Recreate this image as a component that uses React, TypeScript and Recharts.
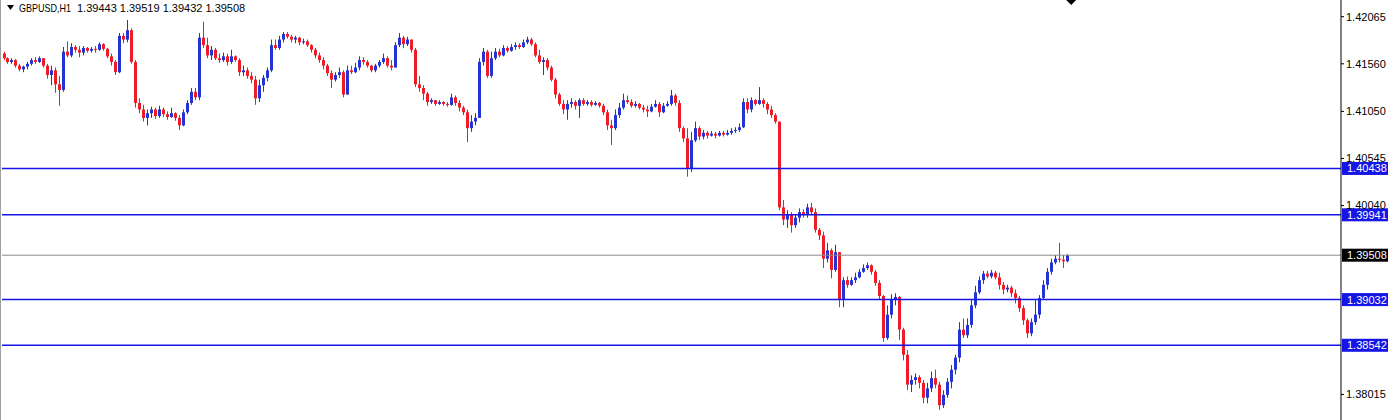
import { ComposedChart, Bar, XAxis, YAxis, ReferenceLine, ReferenceDot } from 'recharts'

const WIDTH = 1395
const HEIGHT = 420
const BULL = '#2433d4'
const BEAR = '#ee1c24'
const LEVEL_BLUE = '#1515e6'
const BID_GRAY = '#8a8a8a'
const FONT = '"Liberation Sans", Arial, sans-serif'

const SYMBOL = 'GBPUSD,H1'
const LAST_OHLC = ['1.39443', '1.39519', '1.39432', '1.39508']

// hourly candles, oldest first; open of each bar is the previous close
const FIRST_OPEN = 1.4167
const closes = [
  1.4162, 1.4158, 1.416, 1.4154, 1.415, 1.4153, 1.4156, 1.416, 1.4158, 1.4162,
  1.4154, 1.4144, 1.4149, 1.4134, 1.4128, 1.4169, 1.4165, 1.4174, 1.4171, 1.4168,
  1.4173, 1.417, 1.4172, 1.4171, 1.4177, 1.4172, 1.4164, 1.4158, 1.4147, 1.4186,
  1.4182, 1.4192, 1.4158, 1.4114, 1.4107, 1.4098, 1.4103, 1.4107, 1.41, 1.4107,
  1.4102, 1.4099, 1.4103, 1.4098, 1.409, 1.4104, 1.4114, 1.4126, 1.412, 1.4184,
  1.4176, 1.4165, 1.4171, 1.4162, 1.416, 1.4164, 1.4158, 1.4164, 1.416, 1.4147,
  1.4149, 1.4143, 1.4139, 1.4119, 1.4133, 1.4141, 1.4149, 1.4176, 1.4173, 1.4182,
  1.4188, 1.4185, 1.4182, 1.4184, 1.4179, 1.418, 1.4176, 1.4171, 1.4165, 1.416,
  1.4154, 1.4146, 1.4139, 1.4144, 1.4147, 1.4123, 1.4149, 1.4147, 1.4152, 1.416,
  1.4158, 1.4154, 1.4149, 1.4154, 1.4158, 1.4162, 1.4154, 1.4152, 1.4176, 1.4184,
  1.4177, 1.4182, 1.4171, 1.4134, 1.413, 1.4124, 1.4115, 1.4117, 1.4113, 1.4115,
  1.4113, 1.4112, 1.412, 1.4114, 1.4109, 1.4104, 1.4087, 1.4094, 1.4098, 1.4158,
  1.4169, 1.4143, 1.4162, 1.4169, 1.4165, 1.4173, 1.417, 1.4174, 1.4176, 1.4174,
  1.4179, 1.4182, 1.4177, 1.4165, 1.4158, 1.416, 1.4152, 1.4139, 1.4123, 1.4113,
  1.4107, 1.4113, 1.4115, 1.4111, 1.4117, 1.4113, 1.4115, 1.4112, 1.4114, 1.4111,
  1.4104, 1.409, 1.4087, 1.4101, 1.4109, 1.4117, 1.4115, 1.4111, 1.4113, 1.4109,
  1.4107, 1.4105, 1.411, 1.4113, 1.4104, 1.4111, 1.4113, 1.4122, 1.4114, 1.4087,
  1.4076, 1.4044, 1.4074, 1.4087, 1.4078, 1.4082, 1.4079, 1.4081, 1.4079, 1.4082,
  1.408, 1.4082, 1.4084, 1.4085, 1.4088, 1.4115, 1.4107, 1.4117, 1.4113, 1.4117,
  1.4113, 1.4107, 1.4101, 1.4094, 1.4002, 1.3989, 1.3994, 1.3983, 1.3991, 1.3997,
  1.3994, 1.4002, 1.3997, 1.3978, 1.3972, 1.3947, 1.3956, 1.3935, 1.3954, 1.3903,
  1.3924, 1.3919, 1.3924, 1.3927, 1.3933, 1.3937, 1.394, 1.3933, 1.3921, 1.3907,
  1.3862, 1.3887, 1.3903, 1.3906, 1.3871, 1.3844, 1.3812, 1.3817, 1.382, 1.3814,
  1.3798, 1.3808, 1.3819, 1.3812, 1.379, 1.3801, 1.3815, 1.3828, 1.3841, 1.3871,
  1.3865, 1.3876, 1.3897, 1.3911, 1.3924, 1.3931, 1.3928, 1.3932, 1.3927, 1.3919,
  1.3914, 1.3916, 1.391, 1.3905, 1.3894, 1.3881, 1.3867, 1.3879, 1.3887, 1.3905,
  1.3919, 1.3933, 1.3943, 1.3947, 1.3946, 1.39443, 1.39508,
]
const highs = [
  1.4169, 1.4163, 1.4162, 1.4161, 1.4156, 1.4154, 1.4158, 1.4162, 1.4163, 1.4164,
  1.4162, 1.4156, 1.4154, 1.4152, 1.4143, 1.4174, 1.418, 1.4178, 1.4176, 1.4175,
  1.4175, 1.4174, 1.4174, 1.4175, 1.4179, 1.4178, 1.4173, 1.4167, 1.416, 1.4189,
  1.4189, 1.4203, 1.4194, 1.416, 1.4119, 1.4112, 1.4107, 1.411, 1.4109, 1.4111,
  1.4109, 1.4105, 1.4109, 1.4104, 1.4101, 1.4107, 1.4117, 1.413, 1.413, 1.4189,
  1.4201, 1.4184, 1.4175, 1.4173, 1.4167, 1.4168, 1.4167, 1.4171, 1.4165, 1.4162,
  1.4154, 1.4152, 1.4147, 1.4143, 1.4139, 1.4144, 1.4152, 1.4182, 1.4182, 1.4186,
  1.419, 1.419, 1.4187, 1.4186, 1.4185, 1.4183, 1.4182, 1.4177, 1.4173, 1.4168,
  1.4163, 1.4156, 1.4149, 1.4147, 1.4152, 1.4149, 1.4154, 1.4154, 1.4157, 1.4164,
  1.4163, 1.416, 1.4155, 1.4156, 1.416, 1.4167, 1.4164, 1.416, 1.4179, 1.4189,
  1.4186, 1.4185, 1.4182, 1.4173, 1.4143, 1.4133, 1.4126, 1.4119, 1.4117, 1.4117,
  1.4116, 1.4115, 1.4124, 1.4122, 1.4117, 1.4111, 1.4107, 1.4101, 1.4103, 1.4162,
  1.4173, 1.4171, 1.4169, 1.4173, 1.4172, 1.4176, 1.4175, 1.4177, 1.4179, 1.4178,
  1.4182, 1.4185, 1.4184, 1.4179, 1.4171, 1.4163, 1.4162, 1.4154, 1.4141, 1.4125,
  1.4117, 1.4117, 1.4119, 1.4117, 1.4119, 1.4119, 1.4117, 1.4117, 1.4116, 1.4115,
  1.4113, 1.4107, 1.4096, 1.4107, 1.4114, 1.4124, 1.4122, 1.4118, 1.4116, 1.4114,
  1.4112, 1.4111, 1.4113, 1.4117, 1.4115, 1.4114, 1.4116, 1.4128, 1.4124, 1.4117,
  1.4089, 1.4087, 1.4083, 1.4094, 1.4089, 1.4085, 1.4084, 1.4084, 1.4083, 1.4084,
  1.4084, 1.4085, 1.4087, 1.4088, 1.4092, 1.4119, 1.4119, 1.412, 1.4118, 1.4131,
  1.4119, 1.4115, 1.4111, 1.4103, 1.4094, 1.401, 1.3999, 1.3997, 1.3995, 1.4001,
  1.4, 1.4006, 1.4007, 1.4001, 1.398, 1.3976, 1.3964, 1.3958, 1.3962, 1.3954,
  1.3927, 1.3928, 1.3927, 1.3932, 1.3936, 1.3941, 1.3943, 1.3941, 1.3935, 1.3924,
  1.3908, 1.3897, 1.3909, 1.391, 1.3907, 1.3873, 1.3849, 1.3822, 1.3824, 1.3822,
  1.3817, 1.3814, 1.3826, 1.3828, 1.3815, 1.3806, 1.3819, 1.3833, 1.3844, 1.3879,
  1.3883, 1.3883, 1.3903, 1.3918, 1.3928, 1.3934, 1.3934, 1.3935, 1.3934, 1.3932,
  1.3922, 1.3919, 1.3918, 1.3914, 1.3907, 1.3897, 1.3883, 1.3883, 1.3903, 1.3908,
  1.3924, 1.3937, 1.3947, 1.3951, 1.3964, 1.3951, 1.39519,
]
const lows = [
  1.416, 1.4156, 1.4156, 1.4152, 1.4148, 1.4147, 1.415, 1.4154, 1.4156, 1.4157,
  1.4152, 1.414, 1.4133, 1.4125, 1.4111, 1.4126, 1.4163, 1.4163, 1.4168, 1.4163,
  1.4165, 1.4168, 1.4168, 1.4168, 1.417, 1.417, 1.4162, 1.4154, 1.4144, 1.4146,
  1.4178, 1.4179, 1.4156, 1.4109, 1.4103, 1.4094, 1.409, 1.4098, 1.4097, 1.4098,
  1.4099, 1.4096, 1.4098, 1.4095, 1.4085, 1.4089, 1.4102, 1.4112, 1.4117, 1.4117,
  1.4173, 1.4162, 1.416, 1.416, 1.4157, 1.4158, 1.4154, 1.4156, 1.4158, 1.4143,
  1.4143, 1.414, 1.4135, 1.4112, 1.4115, 1.4126, 1.4137, 1.4147, 1.4171, 1.4171,
  1.4179, 1.4183, 1.4179, 1.4178, 1.4176, 1.4177, 1.4174, 1.4168, 1.4162, 1.4157,
  1.415, 1.4143, 1.413, 1.4137, 1.4141, 1.412, 1.4123, 1.4145, 1.4146, 1.4149,
  1.4155, 1.4152, 1.4147, 1.4147, 1.4152, 1.4156, 1.4152, 1.4149, 1.4152, 1.4174,
  1.4173, 1.4175, 1.4168, 1.4131, 1.4126, 1.4117, 1.4111, 1.4113, 1.4111, 1.4112,
  1.4111, 1.411, 1.4111, 1.4111, 1.4105, 1.4101, 1.4072, 1.4083, 1.409, 1.4098,
  1.4154, 1.4141, 1.4141, 1.416, 1.4163, 1.4164, 1.4168, 1.4169, 1.4171, 1.4172,
  1.4173, 1.4177, 1.4175, 1.4163, 1.4156, 1.4144, 1.4149, 1.4137, 1.4119, 1.4111,
  1.4102, 1.4096, 1.4109, 1.4107, 1.4098, 1.4111, 1.4111, 1.411, 1.4111, 1.4109,
  1.4101, 1.4085, 1.4069, 1.4085, 1.4098, 1.4107, 1.4113, 1.4109, 1.4109, 1.4107,
  1.4104, 1.4099, 1.4104, 1.4109, 1.4099, 1.4103, 1.411, 1.4111, 1.4111, 1.4083,
  1.4072, 1.4035, 1.404, 1.4072, 1.4074, 1.4075, 1.4076, 1.4078, 1.4076, 1.4078,
  1.4078, 1.4079, 1.408, 1.4082, 1.4083, 1.4087, 1.4103, 1.4104, 1.4111, 1.4112,
  1.4109, 1.4102, 1.4098, 1.4092, 1.3999, 1.3983, 1.398, 1.3975, 1.398, 1.3986,
  1.3991, 1.3991, 1.3994, 1.3975, 1.3967, 1.3937, 1.3943, 1.3926, 1.3933, 1.3895,
  1.3895, 1.3916, 1.3918, 1.3921, 1.3926, 1.3932, 1.3935, 1.393, 1.3918, 1.3903,
  1.3858, 1.386, 1.3883, 1.3897, 1.386, 1.3838, 1.3806, 1.3804, 1.3812, 1.3808,
  1.3792, 1.3792, 1.3804, 1.3808, 1.3785, 1.3787, 1.3798, 1.3808, 1.3823, 1.3836,
  1.3862, 1.3862, 1.3873, 1.3894, 1.3909, 1.392, 1.3926, 1.3926, 1.3925, 1.3914,
  1.3909, 1.3911, 1.3906, 1.3899, 1.389, 1.3876, 1.3862, 1.3864, 1.3876, 1.3883,
  1.3903, 1.3914, 1.393, 1.3941, 1.3943, 1.3937, 1.39432,
]

// empty slots after the last bar (chart shift)
const SHIFT_BARS = 68

const PRICE_MIN = 1.37741
const PRICE_MAX = 1.42244
const PRICE_TICKS = [1.42065, 1.4156, 1.4105, 1.40545, 1.4004, 1.38015]
const LEVELS = [1.40438, 1.39941, 1.39032, 1.38542]
const BID = 1.39508

type Row = {
  idx: number
  open?: number
  close?: number
  high?: number
  low?: number
  range?: [number, number]
}

const data: Row[] = []
for (let i = 0; i < closes.length + SHIFT_BARS; i++) {
  if (i < closes.length) {
    const open = i === 0 ? FIRST_OPEN : closes[i - 1]
    data.push({ idx: i, open, close: closes[i], high: highs[i], low: lows[i], range: [lows[i], highs[i]] })
  } else {
    data.push({ idx: i })
  }
}

function Candle(props: any) {
  const { x, y, width, height, payload } = props
  if (!payload || payload.close == null) return <g />
  const { open, close, high, low } = payload
  const top = Math.min(y, y + height)
  const h = Math.abs(height)
  const span = high - low
  const toY = (p: number) => (span > 0 ? top + ((high - p) / span) * h : top)
  const cx = Math.floor(x + width / 2)
  const color = close >= open ? BULL : BEAR
  const bodyTop = toY(Math.min(high, Math.max(open, close)))
  const bodyBottom = toY(Math.max(low, Math.min(open, close)))
  return (
    <g>
      <line x1={cx + 0.5} x2={cx + 0.5} y1={top} y2={top + h} stroke={color} strokeWidth={1} />
      <rect x={cx - 1} y={bodyTop} width={3} height={Math.max(1, bodyBottom - bodyTop)} fill={color} />
    </g>
  )
}

function PriceTag({ viewBox, text, fill }: any) {
  if (!viewBox) return null
  const left = viewBox.x + viewBox.width + 1
  return (
    <g>
      <rect x={left} y={viewBox.y - 6.5} width={46} height={13} fill={fill} />
      <text x={left + 5} y={viewBox.y + 4} fontSize={11} fontFamily={FONT} fill="#ffffff">
        {text}
      </text>
    </g>
  )
}

function Marker(props: any) {
  const { cx, cy } = props
  return <polygon points={`${cx - 5},${cy} ${cx},${cy - 5} ${cx + 5},${cy} ${cx},${cy + 5}`} fill="#000000" />
}

export default function App() {
  return (
    <div style={{ position: 'absolute', left: 0, top: 0, width: WIDTH, height: HEIGHT, background: '#ffffff', overflow: 'hidden' }}>
      <ComposedChart
        width={WIDTH}
        height={HEIGHT}
        data={data}
        margin={{ top: 0, right: 0, bottom: 0, left: 2 }}
        barCategoryGap={0}
        barGap={0}
      >
        <XAxis dataKey="idx" type="category" hide />
        <YAxis
          orientation="right"
          width={54}
          domain={[PRICE_MIN, PRICE_MAX]}
          allowDataOverflow
          ticks={PRICE_TICKS}
          interval={0}
          tickSize={3}
          tickFormatter={(v: number) => v.toFixed(5)}
          tick={{ fontSize: 11, fill: '#000000', fontFamily: FONT }}
          axisLine={{ stroke: '#000000' }}
          tickLine={{ stroke: '#000000' }}
        />
        {LEVELS.map((lv) => (
          <ReferenceLine
            key={lv}
            y={lv}
            stroke={LEVEL_BLUE}
            strokeWidth={1.5}
            label={(p: any) => <PriceTag viewBox={p.viewBox} text={lv.toFixed(5)} fill={LEVEL_BLUE} />}
          />
        ))}
        <ReferenceLine
          y={BID}
          stroke={BID_GRAY}
          strokeWidth={1}
          label={(p: any) => <PriceTag viewBox={p.viewBox} text={BID.toFixed(5)} fill="#000000" />}
        />
        <Bar dataKey="range" isAnimationActive={false} shape={(p: any) => <Candle {...p} />} />
        <ReferenceDot x={closes.length} y={PRICE_MAX} r={5} shape={(p: any) => <Marker {...p} />} />
      </ComposedChart>
      <div style={{ position: 'absolute', left: 0, top: 0, width: 1, height: HEIGHT, background: '#a0a0a0' }} />
      <svg style={{ position: 'absolute', left: 0, top: 0 }} width={260} height={16}>
        <polygon points="7,5 14,5 10.5,10" fill="#000000" />
        <text x={19} y={12} fontSize={11} fontFamily={FONT} fill="#000000" textLength={52} lengthAdjust="spacingAndGlyphs">
          {SYMBOL}
        </text>
        <text x={77} y={12} fontSize={11} fontFamily={FONT} fill="#000000">
          {LAST_OHLC.join(' ')}
        </text>
      </svg>
    </div>
  )
}
